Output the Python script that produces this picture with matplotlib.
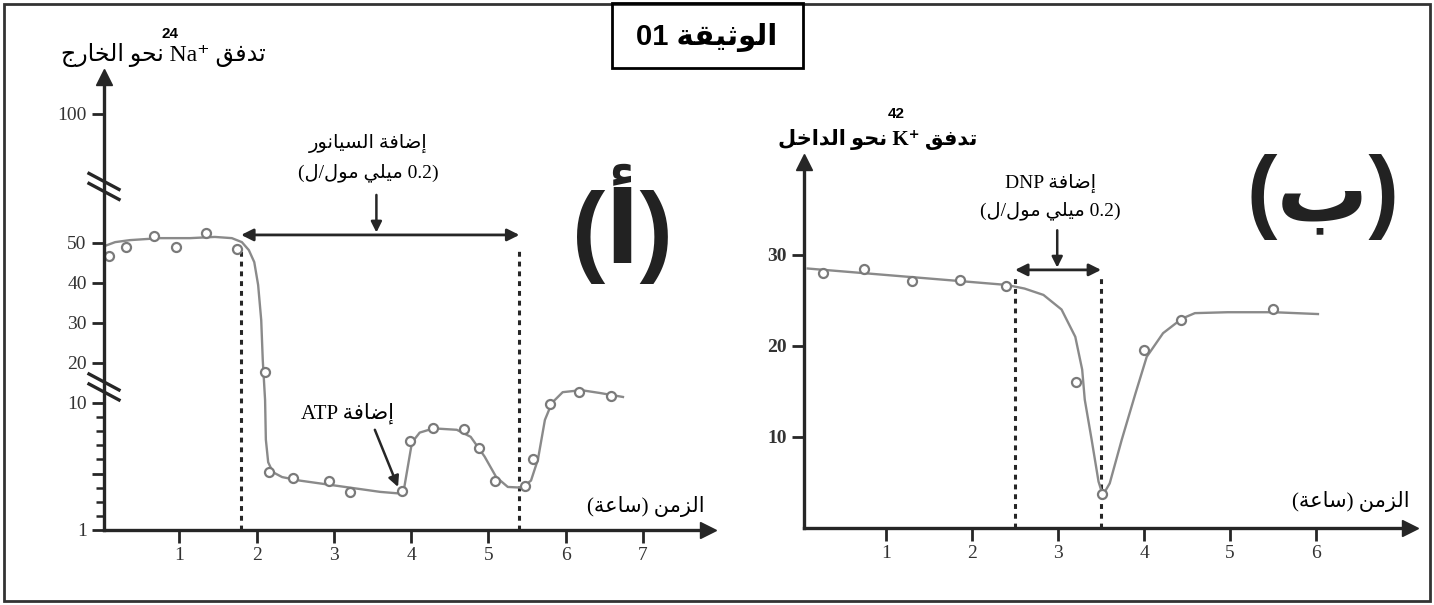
import re
import numpy as np
import matplotlib.pyplot as plt
from matplotlib.patches import Rectangle
from matplotlib.lines import Line2D

# ---- (أ) تدفق 24Na نحو الخارج ----
na_t = [0.09, 0.31, 0.67, 0.96, 1.35, 1.75, 2.11, 2.16, 2.47, 2.94, 3.21,
        3.88, 3.98, 4.28, 4.68, 4.88, 5.08, 5.47, 5.58, 5.80, 6.17, 6.58]
na_v = [46.7, 49.0, 51.7, 49.0, 52.5, 48.5, 17.7, 5.1, 4.7, 4.5, 3.7,
        3.75, 7.3, 8.2, 8.15, 6.8, 4.5, 4.1, 6.0, 9.9, 12.8, 11.8]
na_curve_t = [0.03, 0.17, 0.36, 0.75, 1.14, 1.46, 1.68, 1.81, 1.90, 1.97,
              2.02, 2.06, 2.08, 2.11, 2.12, 2.15, 2.21, 2.33, 2.56, 3.08,
              3.60, 3.82, 3.91, 3.96, 4.01, 4.11, 4.29, 4.59, 4.77, 4.95,
              5.10, 5.25, 5.43, 5.55, 5.64, 5.73, 5.82, 5.96, 6.20, 6.44, 6.74]
na_curve_v = [49.2, 50.2, 50.7, 51.2, 51.2, 51.5, 51.2, 50.2, 48.2, 45.2,
              39.5, 30.7, 20.7, 10.7, 7.4, 5.8, 5.1, 4.75, 4.5, 4.1,
              3.7, 3.6, 4.0, 5.6, 7.2, 7.9, 8.2, 8.1, 7.6, 6.2,
              4.75, 4.05, 4.0, 4.5, 6.0, 8.8, 10.0, 12.7, 13.2, 12.5, 11.5]
na_xticks = [1, 2, 3, 4, 5, 6, 7]
na_yticks = [1, 5, 10, 20, 30, 40, 50, 100]
na_ylabels = ['1', '', '10', '20', '30', '40', '50', '100']
na_yminor = [2, 3, 4, 6, 7, 8, 9]
cyanide = [1.8, 5.4]     # بداية ونهاية إضافة السيانور
atp_t, atp_v = 3.88, 3.75

# ---- (ب) تدفق 42K نحو الداخل ----
k_t = [0.27, 0.74, 1.30, 1.86, 2.40, 3.21, 3.51, 4.00, 4.43, 5.50]
k_v = [28.0, 28.5, 27.1, 27.2, 26.6, 16.0, 3.7, 19.5, 22.8, 24.1]
k_curve_t = [0.09, 2.40, 2.61, 2.83, 3.04, 3.20, 3.28, 3.31, 3.39, 3.47, 3.52,
             3.60, 3.74, 3.90, 4.03, 4.22, 4.44, 4.59, 4.97, 5.51, 6.02]
k_curve_v = [28.5, 26.7, 26.3, 25.6, 24.0, 21.0, 17.4, 14.1, 9.7, 5.1, 3.6,
             4.9, 9.7, 14.8, 18.8, 21.4, 23.0, 23.6, 23.7, 23.7, 23.5]
k_xticks = [1, 2, 3, 4, 5, 6]
k_yticks = [10, 20, 30]
dnp = [2.5, 3.5]

# broken y axis of (أ): value -> pixel height above the x axis
brk_vals = [0, 1, 10, 64, 76, 100, 200]
brk_pos = [-14.11, 0, 127, 343, 344, 416, 716]


def fwd(v):
    return np.interp(v, brk_vals, brk_pos)


def inv(p):
    return np.interp(p, brk_pos, brk_vals)


# arabic shaping (presentation forms) + simple right-to-left ordering
FORMS = {'ا': (0xFE8D, 2), 'أ': (0xFE83, 2), 'إ': (0xFE87, 2), 'آ': (0xFE81, 2),
         'ب': (0xFE8F, 4), 'ة': (0xFE93, 2), 'ت': (0xFE95, 4), 'ث': (0xFE99, 4),
         'ج': (0xFE9D, 4), 'ح': (0xFEA1, 4), 'خ': (0xFEA5, 4), 'د': (0xFEA9, 2),
         'ذ': (0xFEAB, 2), 'ر': (0xFEAD, 2), 'ز': (0xFEAF, 2), 'س': (0xFEB1, 4),
         'ش': (0xFEB5, 4), 'ص': (0xFEB9, 4), 'ض': (0xFEBD, 4), 'ط': (0xFEC1, 4),
         'ظ': (0xFEC5, 4), 'ع': (0xFEC9, 4), 'غ': (0xFECD, 4), 'ف': (0xFED1, 4),
         'ق': (0xFED5, 4), 'ك': (0xFED9, 4), 'ل': (0xFEDD, 4), 'م': (0xFEE1, 4),
         'ن': (0xFEE5, 4), 'ه': (0xFEE9, 4), 'و': (0xFEED, 2), 'ى': (0xFEEF, 2),
         'ي': (0xFEF1, 4)}
LAM_ALEF = {'ا': 0xFEFB, 'أ': 0xFEF7, 'إ': 0xFEF9, 'آ': 0xFEF5}


def shape(s):
    out, i = [], 0
    while i < len(s):
        c = s[i]
        if c not in FORMS:
            out.append(c)
            i += 1
            continue
        prev = s[i - 1] if i > 0 else ''
        jp = prev in FORMS and FORMS[prev][1] == 4
        if c == 'ل' and i + 1 < len(s) and s[i + 1] in LAM_ALEF:
            out.append(chr(LAM_ALEF[s[i + 1]] + jp))
            i += 2
            continue
        base, n = FORMS[c]
        nxt = s[i + 1] if i + 1 < len(s) else ''
        jn = n == 4 and nxt in FORMS
        k = 3 if (jp and jn) else 2 if jn else 1 if jp else 0
        out.append(chr(base + k))
        i += 1
    return ''.join(out)


def ar(s):
    toks = re.findall(r'[A-Za-z0-9.+⁺]+|.', shape(s))
    mirror = {'(': ')', ')': '('}
    return ''.join(mirror.get(t, t) for t in reversed(toks))


W, H = 1434, 605
AXC = '#262626'
CURVE = '#8a8a8a'
SANS = ['Liberation Sans', 'DejaVu Sans']
plt.rcParams['font.family'] = ['Liberation Serif', 'DejaVu Sans']


def px(x, y):
    return x / W, 1 - y / H


fig = plt.figure(figsize=(14.34, 6.05), dpi=100)

fig.add_artist(Rectangle(px(4, 601), 1426 / W, 597 / H, transform=fig.transFigure,
                         fill=False, lw=2, ec='#333333'))
fig.add_artist(Rectangle(px(612, 68), 191 / W, 65 / H, transform=fig.transFigure,
                         fill=False, lw=2, ec='black', fc='white'))
fig.text(*px(707, 37), ar('الوثيقة 01'), ha='center', va='center',
         fontsize=21, fontweight='bold', family=SANS)


def arrow_axes(ax):
    for s in ['top', 'right']:
        ax.spines[s].set_visible(False)
    for s in ['left', 'bottom']:
        ax.spines[s].set_linewidth(2.4)
        ax.spines[s].set_color(AXC)
    ax.plot(1, 0, '>', color=AXC, ms=11, transform=ax.transAxes, clip_on=False)
    ax.plot(0, 1, '^', color=AXC, ms=11, transform=ax.transAxes, clip_on=False)
    ax.patch.set_alpha(0)
    ax.tick_params(direction='out', length=9, width=2, color=AXC,
                   labelsize=14, labelcolor='#333333')
    ax.tick_params(which='minor', direction='out', length=6, width=1.8, color=AXC)


def axis_break(ax, v):
    x0, y0 = ax.transData.transform((ax.get_xlim()[0], v))
    inv_fig = fig.transFigure.inverted()
    for dy in (-5, 5):
        (a, b), (c, d) = inv_fig.transform([(x0 - 15, y0 + dy + 8), (x0 + 15, y0 + dy - 8)])
        fig.add_artist(Line2D([a, c], [b, d], transform=fig.transFigure, lw=2.4, color=AXC))


# ---------------- (أ) ----------------
axA = fig.add_axes([104 / W, 1 - 530 / H, (708 - 104) / W, (530 - 77) / H])
axA.set_yscale('function', functions=(fwd, inv))
axA.set_xlim(0.026, 7.84)
axA.set_ylim(1, 112.3)
arrow_axes(axA)
axA.set_xticks(na_xticks)
axA.set_yticks(na_yticks, na_ylabels)
axA.set_yticks(na_yminor, minor=True)
axA.tick_params(axis='y', which='minor', labelleft=False)

axA.vlines(cyanide, 1, 48.7, colors=AXC, lw=2.2, linestyles=(0, (1.6, 1.6)))
axA.plot(na_curve_t, na_curve_v, color=CURVE, lw=1.7)
axA.plot(na_t, na_v, 'o', ls='none', mfc='white', mec='#7a7a7a', mew=1.6, ms=6.5)

arr = dict(arrowstyle='<|-|>', lw=2, color=AXC, mutation_scale=18, shrinkA=0, shrinkB=0)
axA.annotate('', xy=(cyanide[1], 52), xytext=(cyanide[0], 52), arrowprops=arr)
axA.annotate('', xy=(3.55, 52.6), xytext=(3.55, 62),
             arrowprops=dict(arrowstyle='-|>', lw=1.8, color=AXC, mutation_scale=16,
                             shrinkA=0, shrinkB=0))
axA.text(3.45, 90.3, ar('إضافة السيانور'), ha='center', va='center', fontsize=14)
axA.text(3.45, 80.3, ar('(0.2 ميلي مول/ل)'), ha='center', va='center', fontsize=14)
axA.text(3.18, 9.3, ar('إضافة ATP'), ha='center', va='center', fontsize=15)
axA.annotate('', xy=(atp_t - 0.05, atp_v + 0.3), xytext=(3.53, 8.1),
             arrowprops=dict(arrowstyle='-|>', lw=1.8, color=AXC, mutation_scale=16,
                             shrinkA=0, shrinkB=0))
axA.text(7.04, 2.63, ar('الزمن (ساعة)'), ha='center', va='center', fontsize=15)
axis_break(axA, 70)
axis_break(axA, 14)

fig.text(*px(163, 55), ar('تدفق Na⁺ نحو الخارج'), ha='center', va='center', fontsize=17)
fig.text(*px(170, 34), '24', ha='center', va='center', fontsize=11,
         fontweight='bold', family=SANS)
fig.text(*px(622, 224), ar('(أ)'), ha='center', va='center', fontsize=72,
         fontweight='bold', family=SANS, color='#222222')

# ---------------- (ب) ----------------
axB = fig.add_axes([804 / W, 1 - 528 / H, (1410 - 804) / W, (528 - 162) / H])
axB.set_xlim(0.047, 7.09)
axB.set_ylim(0, 40.2)
arrow_axes(axB)
axB.set_xticks(k_xticks)
axB.set_yticks(k_yticks)
for lab in axB.get_yticklabels():
    lab.set_fontweight('bold')

axB.vlines(dnp, 0, 27.8, colors=AXC, lw=2.2, linestyles=(0, (1.6, 1.6)))
axB.plot(k_curve_t, k_curve_v, color=CURVE, lw=1.7)
axB.plot(k_t, k_v, 'o', ls='none', mfc='white', mec='#7a7a7a', mew=1.6, ms=6.5)
axB.annotate('', xy=(dnp[1], 28.35), xytext=(dnp[0], 28.35), arrowprops=arr)
axB.annotate('', xy=(2.99, 28.6), xytext=(2.99, 32.7),
             arrowprops=dict(arrowstyle='-|>', lw=1.8, color=AXC, mutation_scale=16,
                             shrinkA=0, shrinkB=0))
axB.text(2.91, 37.9, ar('إضافة DNP'), ha='center', va='center', fontsize=14)
axB.text(2.91, 34.9, ar('(0.2 ميلي مول/ل)'), ha='center', va='center', fontsize=14)
axB.text(6.4, 2.9, ar('الزمن (ساعة)'), ha='center', va='center', fontsize=15)

fig.text(*px(878, 140), ar('تدفق K⁺ نحو الداخل'), ha='center', va='center',
         fontsize=15, fontweight='bold')
fig.text(*px(896, 114), '42', ha='center', va='center', fontsize=11,
         fontweight='bold', family=SANS)
fig.text(*px(1323, 197), ar('(ب)'), ha='center', va='center', fontsize=66,
         fontweight='bold', family=SANS, color='#222222')

fig.savefig('out.png', dpi=100, facecolor='white')
